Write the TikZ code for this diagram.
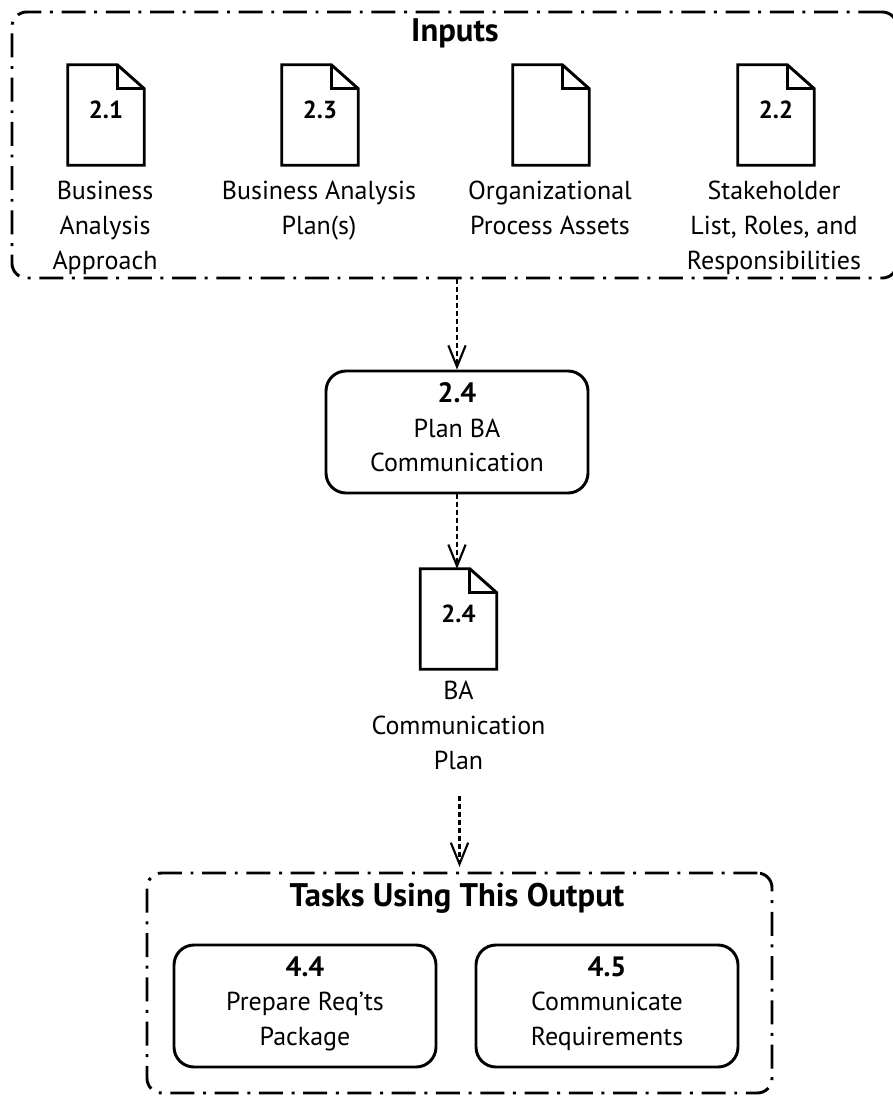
\documentclass[tikz,border=0pt]{standalone}
\usepackage{fontspec}
\setmainfont{PT Sans}
\usetikzlibrary{arrows.meta}
\newcommand\docout[1]{%
  \draw[docline] (#1.north west) -- ([xshift=-20.25pt]#1.north east) -- ([yshift=-18pt]#1.north east) -- (#1.south east) -- (#1.south west) -- cycle;
  \draw[docline] ([xshift=-20.25pt]#1.north east) |- ([yshift=-18pt]#1.north east);}
\newcommand\tasknum[1]{{\fontsize{21}{26}\selectfont\bfseries #1}}
\begin{document}
\begin{tikzpicture}[x=0.75pt,y=-0.75pt,
  every node/.style={font=\fontsize{19.5}{26}\selectfont, inner sep=0pt},
  group/.style={draw, line width=2.2pt, rounded corners=11pt, dash pattern=on 18pt off 6.5pt on 2.2pt off 6.5pt},
  task/.style={draw, line width=2.2pt, rounded corners=15pt, minimum width=196.5pt, minimum height=91.5pt, align=center, text depth=7.5pt},
  doc/.style={minimum width=57pt, minimum height=75pt, text depth=7.5pt, font=\fontsize{18.5}{22}\selectfont\bfseries},
  doclabel/.style={anchor=north, align=center},
  docline/.style={line width=2.2pt, line join=miter},
  flow/.style={line width=1.9pt, dash pattern=on 3.4pt off 2.6pt, -{Straight Barb[length=16pt,width=13pt,line width=1.6pt]}},
  title/.style={font=\fontsize{24.5}{28}\selectfont\bfseries}
]
\useasboundingbox (0,0) rectangle (893,1097);
\fill[white] (0,0) rectangle (893,1097);

% Inputs group
\node[group, minimum width=663.75pt, minimum height=199.5pt] (inputs) at (454.5,145) {};
\node[title] (intitle) at (455,33) {Inputs};

\node[doc] (d1) at (106,115) {2.1};
\node[doc] (d2) at (320,115) {2.3};
\node[doc] (d3) at (551,115) {};
\node[doc] (d4) at (776,115) {2.2};
\docout{d1}\docout{d2}\docout{d3}\docout{d4}

\node[doclabel] (l1) at (105,181) {Business\\Analysis\\Approach};
\node[doclabel] (l2) at (319,181) {Business Analysis\\Plan(s)};
\node[doclabel] (l3) at (550,181) {Organizational\\Process Assets};
\node[doclabel] (l4) at (774,181) {Stakeholder\\List, Roles, and\\Responsibilities};

% Plan task
\node[task] (plan) at (457,432) {\tasknum{2.4}\\Plan BA\\Communication};

% Output document
\node[doc] (d5) at (458.5,619) {2.4};
\docout{d5}
\node[doclabel] (l5) at (458.5,681) {BA\\Communication\\Plan};

% Tasks group
\node[group, minimum width=468.75pt, minimum height=165pt] (tasks) at (459.5,983) {};
\node[title] (tasktitle) at (457,898) {Tasks Using This Output};
\node[task] (t44) at (305,1006) {\tasknum{4.4}\\Prepare Req'ts\\Package};
\node[task] (t45) at (607,1006) {\tasknum{4.5}\\Communicate\\Requirements};

% connectors
\draw[flow] (inputs.south -| plan.north) -- (plan.north);
\draw[flow] (plan.south) -- (plan.south |- d5.north);
\draw[flow, shorten <=20pt, shorten >=3.5pt] (tasks.north |- l5.south) -- (tasks.north);
\end{tikzpicture}
\end{document}
